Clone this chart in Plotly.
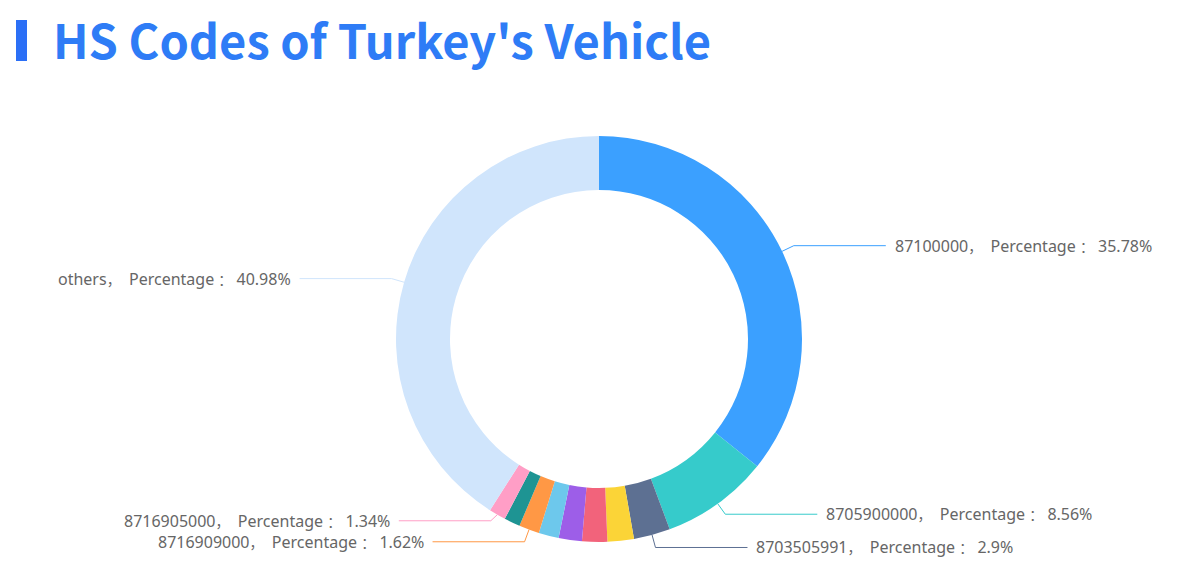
import math
import plotly.graph_objects as go

# ---- data ----
codes = ["87100000", "8705900000", "8703505991", "code_4", "code_5", "code_6",
         "code_7", "8716909000", "code_9", "8716905000", "others"]
percentages = [35.78, 8.56, 2.9, 2.1, 2.0, 1.85, 1.6, 1.62, 1.27, 1.34, 40.98]
show_label = [True, True, True, False, False, False, False, True, False, True, True]
colors = ["#3ba0ff", "#36cbcb", "#5d7092", "#fbd437", "#f2637b", "#9d5ee8",
          "#6dc8ec", "#ff9845", "#1e9493", "#ff9ec6", "#d0e5fc"]
title_text = "HS Codes of Turkey's Vehicle"

# ---- layout constants (page pixels) ----
W, H = 1190, 580
cx, cy = 599, 339
r_out, r_in = 203, 149
len1, len2, gap = 13, 92, 7
min_dy = 21

def px(x):
    return x / W

def py(y):
    return 1 - y / H

fig = go.Figure(go.Pie(
    labels=codes,
    values=percentages,
    sort=False,
    direction="clockwise",
    rotation=0,
    hole=r_in / r_out,
    marker=dict(colors=colors, line=dict(width=0)),
    textinfo="none",
    hoverinfo="label+percent",
    domain=dict(x=[px(cx - r_out), px(cx + r_out)], y=[py(cy + r_out), py(cy - r_out)]),
    showlegend=False,
))

# compute label anchor points from the data
total = sum(percentages)
cum = 0.0
items = []
for name, val, col, show in zip(codes, percentages, colors, show_label):
    mid = (cum + val / 2) / total * 2 * math.pi
    cum += val
    if not show:
        continue
    s, c = math.sin(mid), math.cos(mid)
    items.append(dict(
        name=name, val=val, col=col, right=(s >= 0),
        x0=cx + r_out * s, y0=cy - r_out * c,
        x1=cx + (r_out + len1) * s, y1=cy - (r_out + len1) * c,
    ))

# simple overlap avoidance per side: push labels upward
for side in (True, False):
    grp = sorted([it for it in items if it["right"] == side], key=lambda d: -d["y1"])
    for a, b in zip(grp, grp[1:]):
        if a["y1"] - b["y1"] < min_dy:
            b["y1"] = a["y1"] - min_dy

CJK = '<span style="font-family:\'Noto Sans CJK SC\';font-size:14px">'
shapes = []
annotations = []
for it in items:
    right = it["right"]
    x2 = it["x1"] + len2 if right else it["x1"] - len2
    shapes.append(dict(
        type="path", xref="paper", yref="paper",
        path=(f"M {px(it['x0'])},{py(it['y0'])} L {px(it['x1'])},{py(it['y1'])} "
              f"L {px(x2)},{py(it['y1'])}"),
        line=dict(color=it["col"], width=1),
    ))
    annotations.append(dict(
        xref="paper", yref="paper",
        x=px(x2 + gap if right else x2 - gap), y=py(it["y1"]),
        xanchor="left" if right else "right", yanchor="middle",
        text=(f"{it['name']}{CJK}，</span>  Percentage {CJK}：</span> "
              f"{it['val']:g}%"),
        showarrow=False,
        font=dict(family="Noto Sans", size=16, color="#666666"),
    ))

# title
shapes.append(dict(type="rect", xref="paper", yref="paper",
                   x0=px(16), x1=px(27), y0=py(61), y1=py(20),
                   fillcolor="#2b6ff6", line=dict(width=0)))
annotations.append(dict(
    xref="paper", yref="paper", x=px(51), y=py(38),
    xanchor="left", yanchor="middle", showarrow=False,
    text=f"<b>{title_text}</b>",
    font=dict(family="Noto Sans CJK SC", size=47, color="#2e7cf6"),
))

fig.update_layout(
    width=W, height=H,
    margin=dict(l=0, r=0, t=0, b=0),
    paper_bgcolor="white", plot_bgcolor="white",
    shapes=shapes, annotations=annotations,
)

fig.write_html("out.html", config={"displayModeBar": False},
               post_script="document.body.style.margin='0';")
